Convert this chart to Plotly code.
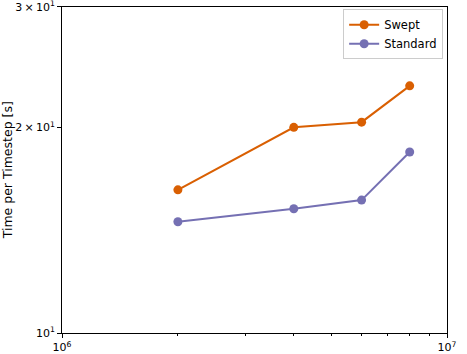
import plotly.graph_objects as go

# grid sizes and timing per step
grid_sizes = [2e6, 4e6, 6e6, 8e6]
swept_time = [16.2, 20.0, 20.35, 23.0]
standard_time = [14.55, 15.2, 15.65, 18.4]

x_ticks = [1e6, 1e7]
x_tick_text = ["10<sup>6</sup>", "10<sup>7</sup>"]
x_minor = [2e6, 3e6, 4e6, 5e6, 6e6, 7e6, 8e6, 9e6]
y_ticks = [10, 20, 30]
y_tick_text = ["10<sup>1</sup>", "2\u2009×\u200910<sup>1</sup>", "3\u2009×\u200910<sup>1</sup>"]

fig = go.Figure()
fig.add_trace(go.Scatter(x=grid_sizes, y=swept_time, name="Swept", mode="lines+markers",
                         line=dict(color="#d95f02", width=2), marker=dict(size=9)))
fig.add_trace(go.Scatter(x=grid_sizes, y=standard_time, name="Standard", mode="lines+markers",
                         line=dict(color="#7570b3", width=2), marker=dict(size=9)))

axis_style = dict(showgrid=False, zeroline=False, showline=True, linecolor="black", linewidth=1,
                  mirror=True, ticks="outside", ticklen=4, tickcolor="black", automargin=False,
                  ticklabeloverflow="allow", tickfont=dict(size=11, color="black"))

fig.update_xaxes(type="log", range=[6, 7], tickvals=x_ticks, ticktext=x_tick_text,
                 minor=dict(tickvals=x_minor, ticks="outside", ticklen=2, tickcolor="black"),
                 **axis_style)
fig.update_yaxes(type="log", range=[1, 1.4771], tickvals=y_ticks, ticktext=y_tick_text,
                 **axis_style)

# y title as an annotation so it sits left of the tick labels
fig.add_annotation(text="Time per Timestep [s]", xref="paper", yref="paper",
                   x=-0.142, y=0.5, xanchor="center", yanchor="middle",
                   textangle=-90, showarrow=False,
                   font=dict(size=12.5, color="black"))

fig.update_layout(
    width=467, height=354,
    margin=dict(l=62, r=20, t=7, b=21),
    plot_bgcolor="white", paper_bgcolor="white",
    font=dict(family="DejaVu Sans", size=12, color="black"),
    legend=dict(x=0.99, y=0.993, xanchor="right", yanchor="top", itemwidth=30,
                bgcolor="rgba(255,255,255,0.8)", bordercolor="#cccccc", borderwidth=1,
                font=dict(size=11.5)),
)

fig.write_html("out.html", config={"displayModeBar": False},
               post_script="document.body.style.margin='0';")
